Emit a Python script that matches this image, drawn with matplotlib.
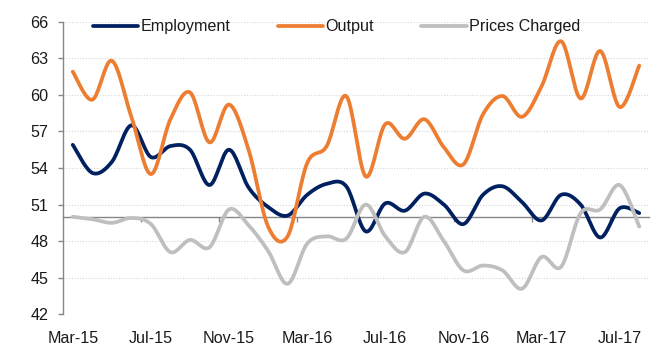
import numpy as np
import matplotlib
matplotlib.use("Agg")
import matplotlib.pyplot as plt

# DATA (monthly index readings, Mar-15 .. Aug-17)
months = ["Mar-15", "Apr-15", "May-15", "Jun-15", "Jul-15", "Aug-15", "Sep-15", "Oct-15",
          "Nov-15", "Dec-15", "Jan-16", "Feb-16", "Mar-16", "Apr-16", "May-16", "Jun-16",
          "Jul-16", "Aug-16", "Sep-16", "Oct-16", "Nov-16", "Dec-16", "Jan-17", "Feb-17",
          "Mar-17", "Apr-17", "May-17", "Jun-17", "Jul-17", "Aug-17"]
employment = [55.9, 53.6, 54.5, 57.5, 54.9, 55.8, 55.5, 52.6, 55.5, 52.4,
              50.8, 50.1, 51.8, 52.7, 52.5, 48.8, 51.1, 50.5, 51.9, 51.0,
              49.4, 51.8, 52.5, 51.2, 49.7, 51.8, 51.0, 48.3, 50.7, 50.3]
output = [61.9, 59.6, 62.8, 58.2, 53.5, 58.0, 60.2, 56.1, 59.2, 55.5,
          49.2, 48.4, 54.4, 55.8, 59.9, 53.3, 57.6, 56.4, 58.0, 55.7,
          54.3, 58.4, 59.9, 58.2, 60.7, 64.4, 59.7, 63.6, 59.0, 62.4]
prices = [50.0, 49.8, 49.5, 49.9, 49.4, 47.1, 48.1, 47.5, 50.6, 49.3,
          47.2, 44.5, 47.8, 48.4, 48.2, 51.0, 48.4, 47.1, 50.0, 48.0,
          45.6, 46.0, 45.6, 44.1, 46.7, 45.9, 50.3, 50.6, 52.6, 49.2]
series_names = ["Employment", "Output", "Prices Charged"]
series_colors = ["#002060", "#ED7D31", "#BFBFBF"]
tick_every = 4


def smooth(y, n=20):
    """Excel-style smoothed line: Catmull-Rom Bezier through each point."""
    y = np.asarray(y, dtype=float)
    x = np.arange(len(y), dtype=float)
    pts = np.column_stack([x, y])
    padded = np.vstack([pts[0], pts, pts[-1]])
    t = np.linspace(0, 1, n)[:, None]
    out = []
    for i in range(len(pts) - 1):
        p0, p3 = pts[i], pts[i + 1]
        c1 = p0 + (padded[i + 2] - padded[i]) / 6
        c2 = p3 - (padded[i + 3] - padded[i + 1]) / 6
        seg = ((1 - t) ** 3) * p0 + 3 * ((1 - t) ** 2) * t * c1 \
            + 3 * (1 - t) * t ** 2 * c2 + t ** 3 * p3
        out.append(seg if i == 0 else seg[1:])
    out = np.vstack(out)
    return out[:, 0], out[:, 1]


plt.rcParams["font.family"] = ["Liberation Sans", "DejaVu Sans"]
FS = 11.6

fig = plt.figure(figsize=(6.72, 3.6), dpi=100)
ax = fig.add_axes([63 / 672, 1 - 314.3 / 360, 586 / 672, 292.6 / 360])

# GRID
for v in range(42, 67, 3):
    ax.axhline(v, color="#D6D6D6", lw=0.8, ls=(0, (1, 1.5)), zorder=0)

# LINES
for vals, name, col in zip([employment, output, prices], series_names, series_colors):
    xs, ys = smooth(vals)
    ax.plot(xs, ys, color=col, lw=2.7, label=name, solid_capstyle="round", zorder=3)

# AXES
ax.set_xlim(-0.5, len(months) - 0.5)
ax.set_ylim(42, 66)
ax.set_yticks(range(42, 67, 3))
ax.set_xticks(range(0, len(months), tick_every))
ax.set_xticklabels(months[::tick_every])
for s in ["top", "right", "bottom"]:
    ax.spines[s].set_visible(False)
ax.spines["left"].set_color("#868686")
ax.spines["left"].set_linewidth(1.0)
ax.tick_params(axis="y", direction="out", length=3.5, width=1.0, color="#868686",
               labelsize=FS, labelcolor="#1a1a1a", pad=7)
ax.tick_params(axis="x", length=0, labelsize=FS, labelcolor="#1a1a1a", pad=12)

# category axis crossing at 50, with tick marks between categories
sec = ax.secondary_xaxis((50 - 42) / (66 - 42))
sec.set_xticks(np.arange(tick_every - 0.5, len(months) - 1, tick_every))
sec.set_xticklabels([])
sec.spines["bottom"].set_color("#868686")
sec.spines["bottom"].set_linewidth(1.0)
sec.tick_params(axis="x", direction="out", length=3.5, width=1.0, color="#868686")

# LEGEND
fig.legend(loc="center left", bbox_to_anchor=(93 / 672, 1 - 26.7 / 360), ncol=3,
           frameon=False, fontsize=FS, handlelength=2.8, handletextpad=0.15,
           columnspacing=2.95, borderpad=0, borderaxespad=0, labelcolor="#1a1a1a")

fig.savefig("out.png", dpi=100)
